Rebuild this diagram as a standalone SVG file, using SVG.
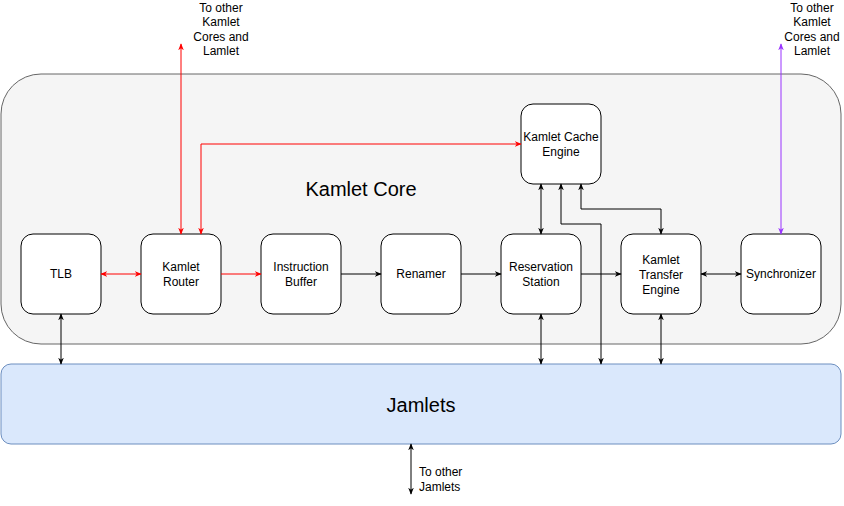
<svg xmlns="http://www.w3.org/2000/svg" width="844" height="506" viewBox="0 0 844 506">
<style>
text{font-family:"Liberation Sans",Arial,sans-serif;fill:#000}
.n rect{fill:#fff;stroke:#000;stroke-width:1}
.n text{font-size:12px;text-anchor:middle}
.k{stroke:#000;fill:none;stroke-width:1}
.r{stroke:#ff0000;fill:none;stroke-width:1}
.p{stroke:#9933ff;fill:none;stroke-width:1}
.lbl{font-size:12px;text-anchor:middle}
</style>
<defs>
<marker id="ak" viewBox="0 0 10 10" refX="9" refY="5" markerWidth="7" markerHeight="7" orient="auto-start-reverse"><path d="M0,1 L10,5 L0,9 L3,5 z" fill="#000"/></marker>
<marker id="ar" viewBox="0 0 10 10" refX="9" refY="5" markerWidth="7" markerHeight="7" orient="auto-start-reverse"><path d="M0,1 L10,5 L0,9 L3,5 z" fill="#ff0000"/></marker>
<marker id="ap" viewBox="0 0 10 10" refX="9" refY="5" markerWidth="7" markerHeight="7" orient="auto-start-reverse"><path d="M0,1 L10,5 L0,9 L3,5 z" fill="#9933ff"/></marker>
</defs>
<g id="core"><rect x="1" y="74" width="840" height="270" rx="40" fill="#f5f5f5" stroke="#666"/><text x="361" y="196" font-size="20" text-anchor="middle">Kamlet Core</text></g>
<g id="jamlets"><rect x="1" y="364" width="840" height="80" rx="10" fill="#dae8fc" stroke="#6c8ebf"/><text x="421" y="412" font-size="20" text-anchor="middle">Jamlets</text></g>
<g id="tlb" class="n"><rect x="21" y="234" width="80" height="80" rx="12"/><text x="61" y="278">TLB</text></g>
<g id="router" class="n"><rect x="141" y="234" width="80" height="80" rx="12"/><text x="181" y="271">Kamlet</text><text x="181" y="286">Router</text></g>
<g id="ibuf" class="n"><rect x="261" y="234" width="80" height="80" rx="12"/><text x="301" y="271">Instruction</text><text x="301" y="286">Buffer</text></g>
<g id="renamer" class="n"><rect x="381" y="234" width="80" height="80" rx="12"/><text x="421" y="278">Renamer</text></g>
<g id="rs" class="n"><rect x="501" y="234" width="80" height="80" rx="12"/><text x="541" y="271">Reservation</text><text x="541" y="286">Station</text></g>
<g id="kte" class="n"><rect x="621" y="234" width="80" height="80" rx="12"/><text x="661" y="264">Kamlet</text><text x="661" y="279">Transfer</text><text x="661" y="294">Engine</text></g>
<g id="sync" class="n"><rect x="741" y="234" width="80" height="80" rx="12"/><text x="781" y="278">Synchronizer</text></g>
<g id="kce" class="n"><rect x="521" y="104" width="80" height="80" rx="12"/><text x="561" y="141">Kamlet Cache</text><text x="561" y="156">Engine</text></g>
<g id="connectors">
<path class="r" d="M101,274 H141" marker-start="url(#ar)" marker-end="url(#ar)"/>
<path class="r" d="M221,274 H261" marker-end="url(#ar)"/>
<path class="r" d="M181,44 V234" marker-start="url(#ar)" marker-end="url(#ar)"/>
<path class="r" d="M521,144 H201 V234" marker-start="url(#ar)" marker-end="url(#ar)"/>
<path class="k" d="M341,274 H381" marker-end="url(#ak)"/>
<path class="k" d="M461,274 H501" marker-end="url(#ak)"/>
<path class="k" d="M581,274 H621" marker-end="url(#ak)"/>
<path class="k" d="M701,274 H741" marker-start="url(#ak)" marker-end="url(#ak)"/>
<path class="p" d="M781,44 V234" marker-start="url(#ap)" marker-end="url(#ap)"/>
<path class="k" d="M541,184 V234" marker-start="url(#ak)" marker-end="url(#ak)"/>
<path class="k" d="M561,184 V224 H601 V364" marker-start="url(#ak)" marker-end="url(#ak)"/>
<path class="k" d="M581,184 V209 H661 V234" marker-start="url(#ak)" marker-end="url(#ak)"/>
<path class="k" d="M61,314 V364" marker-start="url(#ak)" marker-end="url(#ak)"/>
<path class="k" d="M541,314 V364" marker-start="url(#ak)" marker-end="url(#ak)"/>
<path class="k" d="M661,314 V364" marker-start="url(#ak)" marker-end="url(#ak)"/>
<path class="k" d="M411,444 V494" marker-start="url(#ak)" marker-end="url(#ak)"/>
</g>
<g id="labels">
<text class="lbl" x="221" y="12">To other</text><text class="lbl" x="221" y="26">Kamlet</text><text class="lbl" x="221" y="41">Cores and</text><text class="lbl" x="221" y="55">Lamlet</text>
<text class="lbl" x="812" y="12">To other</text><text class="lbl" x="812" y="26">Kamlet</text><text class="lbl" x="812" y="41">Cores and</text><text class="lbl" x="812" y="55">Lamlet</text>
<text x="419" y="476" font-size="12">To other</text><text x="419" y="491" font-size="12">Jamlets</text>
</g>
</svg>
